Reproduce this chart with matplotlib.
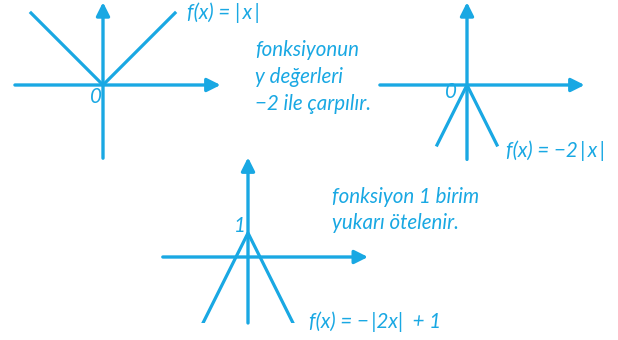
import numpy as np
import matplotlib
matplotlib.use('Agg')
import matplotlib.pyplot as plt

# colour and font
blue = '#19A8E3'
plt.rcParams['font.family'] = ['Lato', 'DejaVu Sans']

# graph data (x, f(x)) for each diagram
abs_x = [-3, 0, 3]
abs_y = [3, 0, 3]

neg2_x = [-1.25, 0, 1.25]
neg2_y = [-2.5, 0, -2.5]

shift_x = [-2.0, 0, 2.0]
shift_y = [-3.0, 1, -3.0]

labels = ['f(x) = |\u2009x\u2009|', 'f(x) = −2\u2009|\u2009x\u2009|', 'f(x) = −\u2009|2x|  + 1']
note1 = 'fonksiyonun\ny değerleri\n−2 ile çarpılır.'
note2 = 'fonksiyon 1 birim\nyukarı ötelenir.'

W, H = 618, 340
fig = plt.figure(figsize=(W / 100, H / 100), dpi=100)
scale = 24  # px per unit


def make_axes(ox, oy, xmin, xmax, ymin, ymax):
    left = (ox + xmin * scale) / W
    bottom = 1 - (oy - ymin * scale) / H
    ax = fig.add_axes([left, bottom, (xmax - xmin) * scale / W, (ymax - ymin) * scale / H])
    ax.set_xlim(xmin, xmax)
    ax.set_ylim(ymin, ymax)
    ax.axis('off')
    arrow = dict(arrowstyle='-|>', lw=2.4, color=blue, mutation_scale=20, shrinkA=0, shrinkB=0)
    ax.annotate('', xy=(xmax, 0), xytext=(xmin, 0), arrowprops=arrow)
    ax.annotate('', xy=(0, ymax), xytext=(0, ymin), arrowprops=arrow)
    return ax


def ftext(px, py, s, size=14.8, **kw):
    fig.text(px / W, 1 - py / H, s, color=blue, style='italic', fontsize=size, **kw)


ax1 = make_axes(103, 85, -3.67, 4.9, -3.05, 3.45)
ax1.plot(abs_x, abs_y, color=blue, lw=2.3)
ax2 = make_axes(467, 85, -3.63, 4.9, -3.1, 3.45)
ax2.plot(neg2_x, neg2_y, color=blue, lw=2.3)
ax3 = make_axes(248, 257, -3.55, 5.0, -2.75, 4.15)
ax3.plot(shift_x, shift_y, color=blue, lw=2.3)

ftext(96, 97, '0', ha='center', va='center')
ftext(451, 92, '0', ha='center', va='center')
ftext(240, 226, '1', ha='center', va='center')

ftext(187, 13, labels[0], va='center')
ftext(506, 151, labels[1], va='center')
ftext(309, 322, labels[2], va='center')

ftext(255, 77, note1, va='center', linespacing=1.42)
ftext(332, 210, note2, va='center', linespacing=1.42)

fig.savefig('out.png', dpi=100)
